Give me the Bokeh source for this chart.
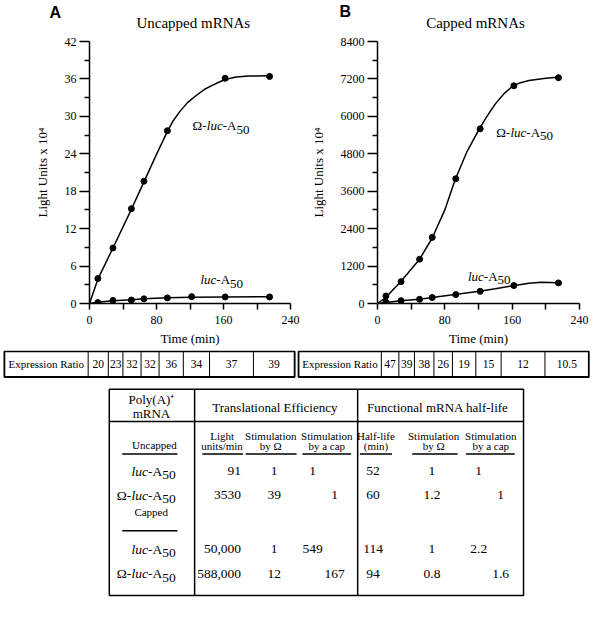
from bokeh.plotting import figure
from bokeh.models import Range1d, FixedTicker, Label
from bokeh.layouts import column, row
from bokeh.embed import file_html
from bokeh.resources import INLINE
from bokeh.core.properties import value

# ---------------- data ----------------
times = [10, 28, 50, 65, 93, 122, 162, 215]
times_omega_A = [10, 28, 50, 65, 93, 162, 215]
omega_A = [4.0, 8.9, 15.2, 19.6, 27.7, 36.1, 36.4]
luc_A = [0.15, 0.5, 0.55, 0.75, 0.9, 1.1, 1.05, 1.05]
omega_B = [240, 700, 1420, 2120, 4000, 5600, 6980, 7240]
luc_B = [40, 90, 135, 190, 285, 390, 575, 660]

# fitted curves as drawn in the figure
curve_omega_A_t = [0, 10, 28, 50, 65, 80, 93, 100, 108, 117, 127, 137, 147,
                   155, 162, 175, 190, 215]
curve_omega_A = [0, 3.9, 8.9, 15.1, 19.5, 23.9, 27.6, 29.3, 30.8, 32.2, 33.3,
                 34.3, 35.0, 35.5, 35.9, 36.3, 36.45, 36.5]
curve_luc_A_t = [0, 10, 28, 50, 65, 93, 122, 162, 215]
curve_luc_A = [0, 0.2, 0.45, 0.6, 0.75, 0.92, 1.02, 1.06, 1.08]
curve_omega_B_t = [0, 10, 27, 50, 65, 80, 92, 106, 121, 130, 140, 150, 161,
                   170, 180, 200, 214]
curve_omega_B = [0, 200, 680, 1420, 2100, 3000, 3950, 4850, 5600, 6000, 6400,
                 6720, 6980, 7080, 7150, 7220, 7250]
curve_luc_B_t = [0, 10, 27, 50, 65, 92, 121, 140, 161, 180, 195, 214]
curve_luc_B = [0, 35, 90, 140, 190, 285, 390, 470, 570, 650, 680, 665]

x_ticks = [0, 80, 160, 240]
x_minor = [40, 120, 200]
yA_ticks = [0, 6, 12, 18, 24, 30, 36, 42]
yA_minor = [3, 9, 15, 21, 27, 33, 39]
yB_ticks = [0, 1200, 2400, 3600, 4800, 6000, 7200, 8400]
yB_minor = [600, 1800, 3000, 4200, 5400, 6600, 7800]

ratio_A = ["20", "23", "32", "32", "36", "34", "37", "39"]
ratio_B = ["47", "39", "38", "26", "19", "15", "12", "10.5"]

row_kind = ["luc", "omega", "luc", "omega"]
light_units = ["91", "3530", "50,000", "588,000"]
te_stim_omega = ["1", "39", "1", "12"]
te_stim_cap = ["1", "1", "549", "167"]
half_life = ["52", "60", "114", "94"]
hl_stim_omega = ["1", "1.2", "1", "0.8"]
hl_stim_cap = ["1", "1", "2.2", "1.6"]

SERIF = "Liberation Serif"
SANS = "Liberation Sans"
K = 0.974  # overall scale of the layout

WID = {'Ω': 0.768, '-': 0.333, 'l': 0.278, 'u': 0.5, 'c': 0.444, 'A': 0.722,
       '5': 0.5, '0': 0.5}


def tw(s, size):
    return sum(WID.get(ch, 0.5) for ch in s) * size


def parts_for(kind, size, sub_drop):
    base = []
    if kind == "omega":
        base.append(("Ω-", "normal", size, 0))
    base += [("luc", "italic", size, 0), ("-A", "normal", size, 0),
             ("50", "normal", size, sub_drop)]
    return base


# ---------------- header strip (panel letters and titles) ----------------
HEAD_H = 33
head = figure(width=591, height=HEAD_H, x_range=Range1d(0, 591),
              y_range=Range1d(HEAD_H, 0), output_backend="svg",
              toolbar_location=None, min_border=0, x_axis_type=None,
              y_axis_type=None)
head.outline_line_color = None
for x, y, s, font, style, size, align in [
        (49, 12.2, "A", SANS, "bold", "16px", "left"),
        (192.8, 22.4, "Uncapped mRNAs", SERIF, "normal", "15px", "center"),
        (339, 11.4, "B", SANS, "bold", "16px", "left"),
        (475, 22.4, "Capped mRNAs", SERIF, "normal", "15px", "center")]:
    head.text(x=[x], y=[y], text=[s], text_font=value(font),
              text_font_style=style, text_font_size=size, text_align=align,
              text_baseline="middle", text_color="black")

PLOT_H = 317
TOP, BOTTOM = 8, 47
FRAME_H = PLOT_H - TOP - BOTTOM


def make_plot(width, left, right, ymax, yt, ym):
    p = figure(width=width, height=PLOT_H, x_range=Range1d(0, 240),
               y_range=Range1d(0, ymax), output_backend="svg",
               toolbar_location=None, min_border_left=left,
               min_border_right=right, min_border_top=TOP,
               min_border_bottom=BOTTOM)
    p.xgrid.visible = False
    p.ygrid.visible = False
    p.outline_line_color = None
    for ax in (p.xaxis, p.yaxis):
        ax.axis_line_color = "black"
        ax.axis_line_width = 1.5
        ax.major_tick_line_color = "black"
        ax.minor_tick_line_color = "black"
        ax.major_tick_line_width = 1.5
        ax.minor_tick_line_width = 1.5
        ax.major_tick_in = 0
        ax.minor_tick_in = 0
        ax.major_label_text_font = SERIF
        ax.major_label_text_font_size = "12px"
        ax.major_label_text_color = "black"
        ax.axis_label_text_font = SERIF
        ax.axis_label_text_font_size = "13px"
        ax.axis_label_text_font_style = "normal"
        ax.axis_label_text_color = "black"
    p.xaxis.ticker = FixedTicker(ticks=x_ticks, minor_ticks=x_minor)
    p.xaxis.major_tick_out = 6
    p.xaxis.minor_tick_out = 6
    p.xaxis.major_label_standoff = 6
    p.xaxis.axis_label = "Time (min)"
    p.xaxis.axis_label_standoff = 4
    p.yaxis.ticker = FixedTicker(ticks=yt, minor_ticks=ym)
    p.yaxis.major_tick_out = 10
    p.yaxis.minor_tick_out = 5
    p.yaxis.major_label_standoff = 3
    p.yaxis.axis_label = "Light Units x 10⁴"
    p.yaxis.axis_label_standoff = 12
    return p


def rich_label(p, x, y, kind, ppu_y):
    off = 0.0
    for s, style, size, drop in parts_for(kind, 13, 4):
        p.add_layout(Label(x=x, y=y - drop / ppu_y, x_offset=off, text=s,
                           text_font=SERIF, text_font_style=style,
                           text_font_size=f"{size}px", text_baseline="middle",
                           text_align="left", text_color="black"))
        off += tw(s, size)


# ---------------- panel A ----------------
pA = make_plot(300, 89, 10, 42, yA_ticks, yA_minor)
ppuA = FRAME_H / 42
pA.line(curve_omega_A_t, curve_omega_A, line_color="black", line_width=1.5)
pA.line(curve_luc_A_t, curve_luc_A, line_color="black", line_width=1.5)
pA.scatter(times_omega_A, omega_A, size=6, color="black")
pA.scatter(times, luc_A, size=6, color="black")
rich_label(pA, 123, 28.5, "omega", ppuA)
rich_label(pA, 132.5, 3.8, "luc", ppuA)

# ---------------- panel B ----------------
pB = make_plot(291, 77, 12, 8400, yB_ticks, yB_minor)
ppuB = FRAME_H / 8400
pB.line(curve_omega_B_t, curve_omega_B, line_color="black", line_width=1.5)
pB.line(curve_luc_B_t, curve_luc_B, line_color="black", line_width=1.5)
pB.scatter(times, omega_B, size=6, color="black")
pB.scatter(times, luc_B, size=6, color="black")
rich_label(pB, 141, 5494, "omega", ppuB)
rich_label(pB, 107.5, 878, "luc", ppuB)

# ---------------- tables ----------------
Y0 = HEAD_H + PLOT_H
CW, CH = 591, 602 - Y0
t = figure(width=CW, height=CH, x_range=Range1d(0, CW), y_range=Range1d(CH, 0),
           output_backend="svg", toolbar_location=None, min_border=0,
           x_axis_type=None, y_axis_type=None)
t.outline_line_color = None


def X(x):
    return x * K


def Y(y):
    return y * K - Y0


def ctext(x, y, s, size, align="center", style="normal"):
    t.text(x=[x], y=[y], text=[s], text_font=value(SERIF),
           text_font_size=f"{size}px", text_font_style=style,
           text_align=align, text_baseline="middle", text_color="black")


def cline(x0, y0, x1, y1, w=1.0):
    t.segment(x0=[x0], y0=[y0], x1=[x1], y1=[y1], line_color="black",
              line_width=w)


def crich_right(xr, y, kind, size):
    parts = parts_for(kind, size, 4)
    total = sum(tw(s, sz) for s, _, sz, _ in parts)
    x = xr - total
    for s, style, sz, drop in parts:
        ctext(x, y + drop, s, sz, align="left", style=style)
        x += tw(s, sz)


# expression ratio rows (cell edges as drawn in the reference)
cells_A = [4, 90, 110.7, 125.7, 144.3, 162.8, 187.7, 214.6, 259.7, 302]
cells_B = [306, 391, 409, 425, 445, 464, 488, 514, 559, 604]


def ratio_row(edges, ratios):
    e = [X(v) for v in edges]
    top, bot = 0.9, 26.5
    mid = (top + bot) / 2
    t.quad(left=[e[0]], right=[e[-1]], top=[top], bottom=[bot],
           fill_color=None, line_color="black", line_width=1.8)
    for v in e[1:-1]:
        cline(v, top, v, bot, 1.0)
    ctext((e[0] + e[1]) / 2, mid, "Expression Ratio", 11)
    for i, r in enumerate(ratios):
        ctext((e[i + 1] + e[i + 2]) / 2, mid, r, 11.5)


ratio_row(cells_A, ratio_A)
ratio_row(cells_B, ratio_B)

# main table
TL, TR, TT, TB = X(111.7), X(537), Y(399), Y(611)
t.quad(left=[TL], right=[TR], top=[TT], bottom=[TB], fill_color=None,
       line_color="black", line_width=1.5)
cline(X(199.3), TT, X(199.3), TB, 1.5)
cline(X(366.7), TT, X(366.7), TB, 1.5)
cline(TL, Y(432.3), TR, Y(432.3), 1.5)

ctext(X(155), Y(410), "Poly(A)⁺", 13)
ctext(X(155), Y(424), "mRNA", 13)
ctext(X(281.7), Y(418.3), "Translational Efficiency", 13)
ctext(X(449), Y(418), "Functional mRNA half-life", 13)

sub_heads = [
    (227.5, "Light", "units/min", 207.3, 249),
    (277.5, "Stimulation", "by Ω", 251.7, 304),
    (335, "Stimulation", "by a cap", 310, 360),
    (385.5, "Half-life", "(min)", 369, 402),
    (444.7, "Stimulation", "by Ω", 422.7, 469.3),
    (503.3, "Stimulation", "by a cap", 478, 528),
]
for cx, l1, l2, u0, u1 in sub_heads:
    ctext(X(cx), Y(446.7), l1, 11)
    ctext(X(cx), Y(457.3), l2, 11)
    cline(X(u0), Y(465.7), X(u1), Y(465.7), 1.5)

ctext(X(158), Y(456.7), "Uncapped", 11)
cline(X(125), Y(465.7), X(181.7), Y(465.7), 1.5)
ctext(X(154.7), Y(525), "Capped", 11)
cline(X(125), Y(544.3), X(181.7), Y(544.3), 1.5)

row_y = [483.3, 508, 563.3, 588.3]
FS = 13.5
for i, kind in enumerate(row_kind):
    y = Y(row_y[i])
    crich_right(X(180), y, kind, FS)
    ctext(X(247), y, light_units[i], FS, align="right")
    ctext(X(281), y, te_stim_omega[i], FS)
    ctext(X(320.5 if kind == "luc" else 343), y, te_stim_cap[i], FS)
    ctext(X(382.5), y, half_life[i], FS)
    ctext(X(443), y, hl_stim_omega[i], FS)
    ctext(X(491 if kind == "luc" else 513.5), y, hl_stim_cap[i], FS)

layout = column(head, row(pA, pB), t)
open("out.html", "w").write(file_html(layout, INLINE))
